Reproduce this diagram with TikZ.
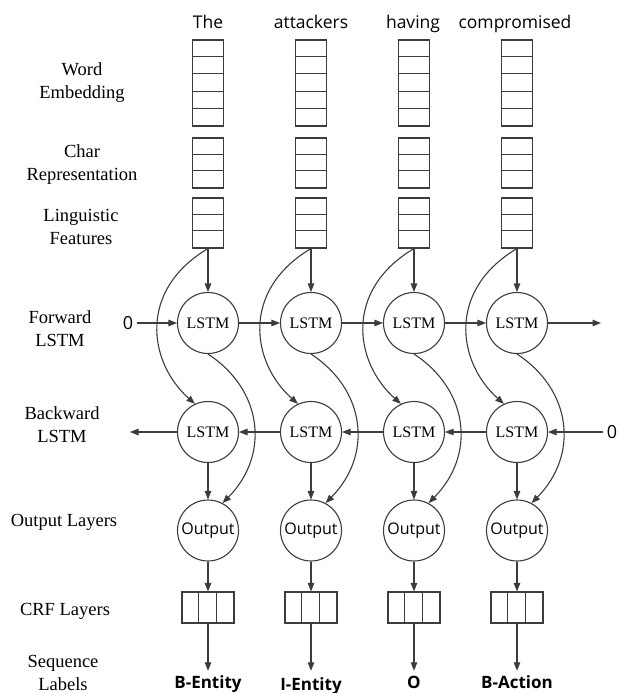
\documentclass[tikz,border=0pt]{standalone}
\usepackage{fontspec}
\setmainfont{Liberation Serif}
\newfontfamily\sansf{Open Sans}
\usetikzlibrary{arrows.meta}
\definecolor{lncol}{HTML}{3C3C3C}
\begin{document}
\begin{tikzpicture}[x=1pt,y=-1pt,
  ln/.style={draw=lncol, line width=1.1pt},
  arr/.style={ln, -{Triangle[length=8.5pt,width=6.5pt]}},
  cell/.style={draw=lncol, line width=1.1pt, minimum width=31pt, inner sep=0pt},
  lstm/.style={circle, draw=lncol, line width=1.1pt, minimum size=61pt, inner sep=0pt, font=\fontsize{16}{16}\selectfont},
  outn/.style={lstm, font=\sansf\fontsize{16}{16}\selectfont},
  lbl/.style={align=center, font=\fontsize{18.5}{23}\selectfont},
  word/.style={font=\sansf\fontsize{17.5}{20}\selectfont, anchor=base},
  zero/.style={font=\sansf\fontsize{18}{20}\selectfont},
  tag/.style={font=\sansf\bfseries\fontsize{17}{20}\selectfont, anchor=base, text height=12pt, text depth=0pt, inner ysep=5pt},
]
\useasboundingbox (0,0) rectangle (620,693);

% left labels
\node[lbl] (lWE) at (82,83) {Word\\Embedding};
\node[lbl] (lCR) at (82,165) {Char\\Representation};
\node[lbl] (lLF) at (81,227) {Linguistic\\Features};
\node[lbl] (lFL) at (60,328.5) {Forward\\LSTM};
\node[lbl] (lBL) at (62,425) {Backward\\LSTM};
\node[lbl] (lOL) at (64,522.5) {Output Layers};
\node[lbl] (lCL) at (65,611.5) {CRF Layers};
\node[lbl] (lSL) at (63,673) {Sequence\\Labels};

% top words
\node[word] (w1) at (208,29) {The};
\node[word] (w2) at (311,29) {attackers};
\node[word] (w3) at (413,29) {having};
\node[word] (w4) at (515,29) {compromised};

% columns
\foreach \i/\cx in {1/208,2/311,3/414,4/517}{
  \node[cell, minimum height=86pt] (we\i) at (\cx,83) {};
  \foreach \k in {1,...,4}
    \draw[ln] ([yshift=-17.2*\k pt]we\i.north west) -- ([yshift=-17.2*\k pt]we\i.north east);
  \node[cell, minimum height=50pt] (ch\i) at (\cx,163) {};
  \node[cell, minimum height=50pt] (lf\i) at (\cx,223) {};
  \foreach \k in {1,2}{
    \draw[ln] ([yshift=-16.67*\k pt]ch\i.north west) -- ([yshift=-16.67*\k pt]ch\i.north east);
    \draw[ln] ([yshift=-16.67*\k pt]lf\i.north west) -- ([yshift=-16.67*\k pt]lf\i.north east);
  }
  \node[lstm] (fw\i) at (\cx,323) {LSTM};
  \node[lstm] (bw\i) at (\cx,432) {LSTM};
  \node[outn] (out\i) at (\cx,530.5) {Output};
  \node[cell, minimum width=52pt, minimum height=31pt] (crf\i) at (\cx,607.5) {};
  \foreach \k in {1,2}
    \draw[ln] ([xshift=17.33*\k pt]crf\i.north west) -- ([xshift=17.33*\k pt]crf\i.south west);
  % connectors
  \draw[arr] (lf\i.south) -- (fw\i.north);
  \draw[arr] (lf\i.south) .. controls (\cx-70,290) and (\cx-60,362) .. (bw\i.115);
  \draw[arr] (fw\i.south) .. controls (\cx+55,390) and (\cx+62,455) .. (out\i.62);
  \draw[arr] (bw\i.south) -- (out\i.north);
  \draw[arr] (out\i.south) -- (crf\i.north);
}

% sequence labels
\node[tag] (t1) at (208,688) {B-Entity};
\node[tag] (t2) at (311,690) {I-Entity};
\node[tag] (t3) at (414,688) {O};
\node[tag] (t4) at (517,688) {B-Action};
\foreach \i in {1,...,4}
  \draw[arr] (crf\i.south) -- (crf\i.south |- t1.north);

% horizontal recurrences
\node[zero] (z1) at (128,323) {0};
\node[zero] (z2) at (612,432) {0};
\coordinate (fend) at (601,323);
\coordinate (bend) at (130,432);
\draw[arr] (z1) -- (fw1);
\draw[arr] (fw1) -- (fw2);
\draw[arr] (fw2) -- (fw3);
\draw[arr] (fw3) -- (fw4);
\draw[arr] (fw4) -- (fend);
\draw[arr] (z2) -- (bw4);
\draw[arr] (bw4) -- (bw3);
\draw[arr] (bw3) -- (bw2);
\draw[arr] (bw2) -- (bw1);
\draw[arr] (bw1) -- (bend);
\end{tikzpicture}
\end{document}
